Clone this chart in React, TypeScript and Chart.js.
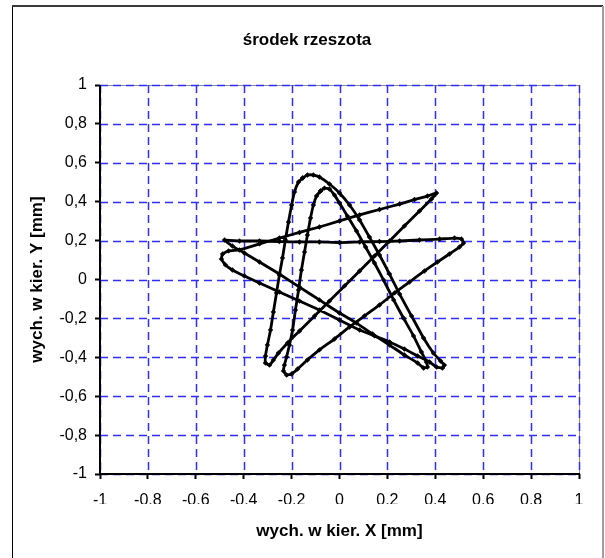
import React, { useEffect, useRef } from 'react';
import { Chart, registerables } from 'chart.js';

Chart.register(...registerables);

const chartTitle = 'środek rzeszota';
const xAxisTitle = 'wych. w kier. X [mm]';
const yAxisTitle = 'wych. w kier. Y [mm]';

const tickValues = [-1, -0.8, -0.6, -0.4, -0.2, 0, 0.2, 0.4, 0.6, 0.8, 1];
const xTickLabels = ['-1', '-0,8', '-0,6', '-0,4', '-0,2', '0', '0,2', '0,4', '0,6', '0,8', '1'];
const yTickLabels = ['-1', '-0,8', '-0,6', '-0,4', '-0,2', '0', '0,2', '0,4', '0,6', '0,8', '1'];

// first pass of the star (outer top tip)
const loopAX = [
  -0.154, -0.134, -0.109, -0.084, -0.042, 0.0, 0.042, 0.084, 0.125, 0.167, 0.209, 0.251, 0.301, 0.351, 0.392,
  0.422, 0.438, 0.43, 0.405, 0.376, 0.326, 0.271, 0.209, 0.146, 0.084, 0.0, -0.084, -0.167, -0.251, -0.334,
  -0.397, -0.447, -0.476, -0.493, -0.488, -0.463, -0.418, -0.334, -0.251, -0.167, -0.084, 0.0, 0.084, 0.167,
  0.251, 0.313, 0.367, 0.405, 0.384, 0.334, 0.271, 0.209, 0.146, 0.084, 0.021, -0.042, -0.104, -0.167, -0.217,
  -0.255, -0.276, -0.292, -0.309, -0.309, -0.301, -0.288, -0.276, -0.263, -0.251, -0.238, -0.226, -0.213, -0.2,
  -0.188, -0.171, -0.154,
];
const loopAY = [
  0.522, 0.537, 0.537, 0.527, 0.491, 0.445, 0.383, 0.306, 0.218, 0.126, 0.028, -0.075, -0.188, -0.301, -0.378,
  -0.419, -0.44, -0.455, -0.45, -0.424, -0.393, -0.357, -0.321, -0.29, -0.26, -0.208, -0.157, -0.111, -0.064, -0.018,
  0.018, 0.049, 0.075, 0.105, 0.131, 0.147, 0.152, 0.183, 0.213, 0.242, 0.27, 0.301, 0.332, 0.36,
  0.388, 0.411, 0.429, 0.445, 0.414, 0.352, 0.275, 0.198, 0.121, 0.044, -0.033, -0.111, -0.188, -0.265, -0.326,
  -0.378, -0.414, -0.44, -0.429, -0.393, -0.337, -0.26, -0.167, -0.069, 0.023, 0.111, 0.203, 0.296, 0.383,
  0.45, 0.501, 0.522,
];

// second pass of the star (inner top tip)
const loopBX = [
  -0.079, -0.063, -0.042, -0.021, 0.0, 0.033, 0.071, 0.109, 0.146, 0.184, 0.226, 0.267, 0.309, 0.342, 0.363,
  0.367, 0.351, 0.326, 0.271, 0.209, 0.138, 0.071, 0.0, -0.084, -0.167, -0.251, -0.334, -0.397, -0.447, -0.48,
  -0.418, -0.334, -0.251, -0.167, -0.084, 0.0, 0.084, 0.167, 0.251, 0.334, 0.418, 0.48, 0.509, 0.518,
  0.501, 0.459, 0.409, 0.355, 0.292, 0.23, 0.167, 0.104, 0.042, -0.021, -0.084, -0.134, -0.175, -0.2, -0.221,
  -0.234, -0.23, -0.221, -0.209, -0.196, -0.184, -0.171, -0.159, -0.146, -0.134, -0.121, -0.109, -0.096, -0.079,
];
const loopBY = [
  0.455, 0.47, 0.465, 0.434, 0.393, 0.326, 0.249, 0.167, 0.085, -0.003, -0.105, -0.198, -0.29, -0.373, -0.424,
  -0.45, -0.455, -0.429, -0.388, -0.337, -0.28, -0.224, -0.172, -0.105, -0.039, 0.028, 0.09, 0.136, 0.172, 0.203,
  0.198, 0.198, 0.195, 0.193, 0.193, 0.19, 0.193, 0.195, 0.198, 0.203, 0.208, 0.213, 0.208, 0.188,
  0.167, 0.131, 0.09, 0.044, -0.013, -0.069, -0.131, -0.188, -0.244, -0.306, -0.362, -0.414, -0.46, -0.486, -0.491,
  -0.47, -0.44, -0.398, -0.337, -0.26, -0.157, -0.054, 0.049, 0.141, 0.229, 0.316, 0.383, 0.429, 0.455,
];

const FONT = "'Liberation Sans', Arial, Helvetica, sans-serif";
const GRID_BLUE = 'rgb(45,45,255)';

const toPoints = (xs: number[], ys: number[]) => xs.map((x, i) => ({ x, y: ys[i] }));

const makeDataset = (xs: number[], ys: number[]) => ({
  data: toPoints(xs, ys),
  showLine: true,
  borderColor: '#000',
  backgroundColor: '#000',
  borderWidth: 2.8,
  pointStyle: 'rectRot' as const,
  pointRadius: 2.7,
  pointBorderWidth: 0,
  pointHoverRadius: 2.7,
  tension: 0.15,
});

const decorPlugin = {
  id: 'decor',
  beforeDraw(chart: any) {
    const ctx = chart.ctx;
    const a = chart.chartArea;
    ctx.save();
    ctx.fillStyle = '#fff';
    ctx.fillRect(0, 0, chart.width, chart.height);
    // outer frame
    ctx.lineWidth = 1;
    ctx.strokeStyle = '#000';
    ctx.beginPath();
    ctx.moveTo(12.5, chart.height);
    ctx.lineTo(12.5, 6);
    ctx.stroke();
    ctx.lineWidth = 2;
    ctx.strokeStyle = '#3a3a3a';
    ctx.beginPath();
    ctx.moveTo(12, 6);
    ctx.lineTo(603, 6);
    ctx.stroke();
    ctx.strokeStyle = '#a0a0a0';
    ctx.beginPath();
    ctx.moveTo(603, 6);
    ctx.lineTo(603, chart.height);
    ctx.stroke();
    // plot area border (top, right)
    ctx.lineWidth = 1;
    ctx.strokeStyle = '#8c8c8c';
    ctx.beginPath();
    ctx.moveTo(a.left, a.top + 0.5);
    ctx.lineTo(a.right + 0.5, a.top + 0.5);
    ctx.lineTo(a.right + 0.5, a.bottom);
    ctx.stroke();
    ctx.restore();
  },
  beforeDatasetsDraw(chart: any) {
    const ctx = chart.ctx;
    const a = chart.chartArea;
    const xs = chart.scales.x;
    const ys = chart.scales.y;
    ctx.save();
    // dashed blue grid
    ctx.strokeStyle = GRID_BLUE;
    ctx.lineWidth = 1.5;
    ctx.setLineDash([8, 5]);
    tickValues.forEach((v) => {
      const px = Math.round(xs.getPixelForValue(v)) + 0.5;
      ctx.beginPath();
      ctx.moveTo(px, a.top);
      ctx.lineTo(px, a.bottom);
      ctx.stroke();
      const py = Math.round(ys.getPixelForValue(v)) + 0.5;
      ctx.beginPath();
      ctx.moveTo(a.left, py);
      ctx.lineTo(a.right, py);
      ctx.stroke();
    });
    ctx.setLineDash([]);
    // black axes
    ctx.strokeStyle = '#000';
    ctx.lineWidth = 2;
    ctx.beginPath();
    ctx.moveTo(a.left, a.top);
    ctx.lineTo(a.left, a.bottom);
    ctx.lineTo(a.right + 1, a.bottom);
    ctx.stroke();
    ctx.restore();
  },
  afterDraw(chart: any) {
    const ctx = chart.ctx;
    const a = chart.chartArea;
    ctx.save();
    ctx.fillStyle = '#000';
    ctx.textAlign = 'center';
    ctx.textBaseline = 'middle';
    ctx.font = `bold 17px ${FONT}`;
    ctx.fillText(chartTitle, 307, 40);
    ctx.fillText(xAxisTitle, (a.left + a.right) / 2, 531);
    ctx.translate(37, (a.top + a.bottom) / 2);
    ctx.rotate(-Math.PI / 2);
    ctx.fillText(yAxisTitle, 0, 0);
    ctx.restore();
  },
};

export default function App() {
  const ref = useRef<HTMLCanvasElement>(null);

  useEffect(() => {
    const canvas = ref.current;
    if (!canvas) return;
    const chart = new Chart(canvas, {
      type: 'scatter',
      data: {
        datasets: [makeDataset(loopAX, loopAY), makeDataset(loopBX, loopBY)] as any,
      },
      options: {
        animation: false,
        responsive: false,
        devicePixelRatio: 1,
        events: [],
        layout: { padding: { left: 0, top: 85, right: 26, bottom: 54 } },
        plugins: {
          legend: { display: false },
          tooltip: { enabled: false },
          title: { display: false },
        },
        scales: {
          x: {
            type: 'linear',
            position: 'bottom',
            min: -1,
            max: 1,
            afterBuildTicks: (s: any) => {
              s.ticks = tickValues.map((v) => ({ value: v }));
            },
            afterFit: (s: any) => {
              s.height = 30;
            },
            ticks: {
              callback: (_v: any, i: number) => xTickLabels[i],
              font: { family: FONT, size: 16 },
              color: '#000',
              padding: 12,
              maxRotation: 0,
              autoSkip: false,
            },
            grid: {
              drawOnChartArea: false,
              color: '#000',
              tickColor: '#000',
              tickLength: 5,
              tickWidth: 2,
              drawTicks: true,
            },
            border: { display: false },
          },
          y: {
            type: 'linear',
            position: 'left',
            min: -1,
            max: 1,
            afterBuildTicks: (s: any) => {
              s.ticks = tickValues.map((v) => ({ value: v }));
            },
            afterFit: (s: any) => {
              s.width = 100;
            },
            ticks: {
              callback: (_v: any, i: number) => yTickLabels[i],
              font: { family: FONT, size: 16 },
              color: '#000',
              padding: 8,
              autoSkip: false,
            },
            grid: {
              drawOnChartArea: false,
              color: '#000',
              tickColor: '#000',
              tickLength: 5,
              tickWidth: 2,
              drawTicks: true,
            },
            border: { display: false },
          },
        },
      } as any,
      plugins: [decorPlugin],
    });
    return () => chart.destroy();
  }, []);

  return (
    <div style={{ position: 'fixed', left: 0, top: 0, width: 605, height: 558, background: '#fff' }}>
      <canvas ref={ref} width={605} height={558} style={{ display: 'block', width: 605, height: 558 }} />
    </div>
  );
}
